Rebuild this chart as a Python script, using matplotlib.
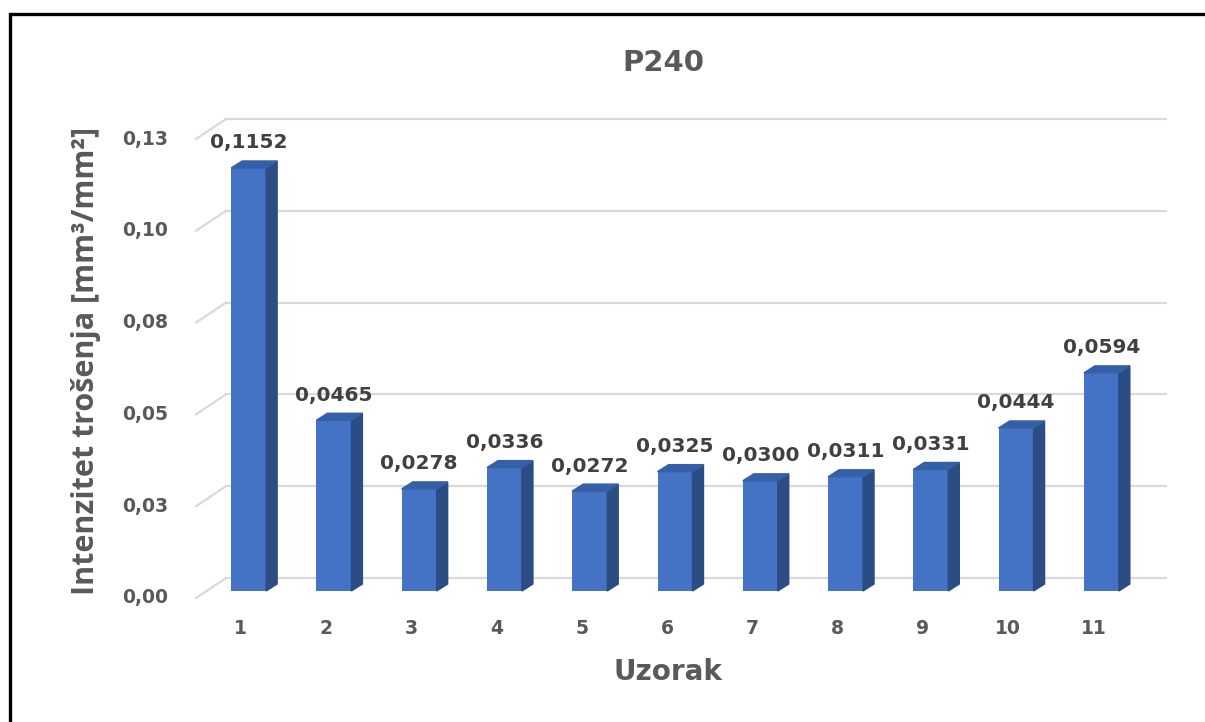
"""P240 wear intensity, Excel-style 3D columns."""

import matplotlib
matplotlib.use("Agg")
import matplotlib.pyplot as plt
from matplotlib.patches import Polygon, Rectangle
from matplotlib.transforms import blended_transform_factory, ScaledTranslation

CATEGORIES = [1, 2, 3, 4, 5, 6, 7, 8, 9, 10, 11]
VALUES = [0.1152, 0.0465, 0.0278, 0.0336, 0.0272, 0.0325,
          0.0300, 0.0311, 0.0331, 0.0444, 0.0594]
LABELS = ["0,1152", "0,0465", "0,0278", "0,0336", "0,0272", "0,0325",
          "0,0300", "0,0311", "0,0331", "0,0444", "0,0594"]
Y_TICKS = [0.0, 0.025, 0.05, 0.075, 0.10, 0.125]
Y_TICK_LABELS = ["0,00", "0,03", "0,05", "0,08", "0,10", "0,13"]

FRONT = "#4472C4"
SIDE = "#2C4C84"
TOP = "#3560A8"
GRID = "#D9D9D9"
GREY = "#595959"
DARK = "#404040"

W, H = 1205, 722
fig = plt.figure(figsize=(W / 100, H / 100), dpi=100)
ax = fig.add_axes([206 / W, (H - 591) / H, 938 / W, 459 / H])
ax.set_xlim(0.5, 11.5)
ax.set_ylim(0, 0.125)
ax.axis("off")

# pixel -> data unit conversion for the fake depth
px_x = 938 / 11
px_y = 459 / 0.125


def dx(px):
    return px / px_x


def dy(px):
    return px / px_y


# back wall gridlines with slanted floor edge
x0, x1 = ax.get_xlim()
for v in Y_TICKS:
    ax.plot([x0 + dx(20), x1 + dx(22)], [v + dy(13), v + dy(13)],
            color=GRID, lw=1.6, zorder=1, clip_on=False)
    ax.plot([x0 - dx(10), x0 + dx(20)], [v - dy(7), v + dy(13)],
            color=GRID, lw=1.6, zorder=1, clip_on=False)

# columns
bw = 0.41
ax.bar(CATEGORIES, VALUES, width=bw, color=FRONT, zorder=3)
for x, v in zip(CATEGORIES, VALUES):
    r = x + bw / 2
    l = x - bw / 2
    ax.add_patch(Polygon([(r, 0), (r + dx(11), dy(7)), (r + dx(11), v + dy(7)), (r, v)],
                         closed=True, color=SIDE, zorder=3, clip_on=False))
    ax.add_patch(Polygon([(l, v), (r, v), (r + dx(11), v + dy(7)), (l + dx(11), v + dy(7))],
                         closed=True, color=TOP, zorder=3, clip_on=False))

for x, v, lab in zip(CATEGORIES, VALUES, LABELS):
    ax.annotate(lab, (x, v), xytext=(0, 25 * 0.72), textcoords="offset points",
                ha="center", va="center", fontsize=14.5, fontweight="bold",
                color=DARK, zorder=5)

# tick labels on the front plane
ytrans = blended_transform_factory(ax.transAxes, ax.transData) + \
    ScaledTranslation(-0.38, -0.07, fig.dpi_scale_trans)
for v, lab in zip(Y_TICKS, Y_TICK_LABELS):
    ax.text(0, v, lab, transform=ytrans, ha="right", va="center",
            fontsize=13.5, fontweight="bold", color=GREY)

xtrans = blended_transform_factory(ax.transData, ax.transAxes) + \
    ScaledTranslation(-0.08, -0.38, fig.dpi_scale_trans)
for c in CATEGORIES:
    ax.text(c, 0, str(c), transform=xtrans, ha="center", va="center",
            fontsize=13.5, fontweight="bold", color=GREY)

fig.text(663 / W, 1 - 63 / H, "P240", ha="center", va="center",
         fontsize=21, fontweight="bold", color=GREY)
fig.text(668 / W, 1 - 672 / H, "Uzorak", ha="center", va="center",
         fontsize=20, fontweight="bold", color=GREY)
fig.text(86 / W, 1 - 361 / H, "Intenzitet trošenja [mm³/mm²]", rotation=90,
         ha="center", va="center", fontsize=22, fontweight="bold",
         family="Open Sans", color=GREY)

# outer frame (runs off the right and bottom edges)
fig.add_artist(Rectangle((9.5 / W, -0.1), 1.2, 1.1 - 13.5 / H, transform=fig.transFigure,
                         fill=False, edgecolor="black", lw=2.4, clip_on=False))

fig.savefig("out.png", dpi=100)
